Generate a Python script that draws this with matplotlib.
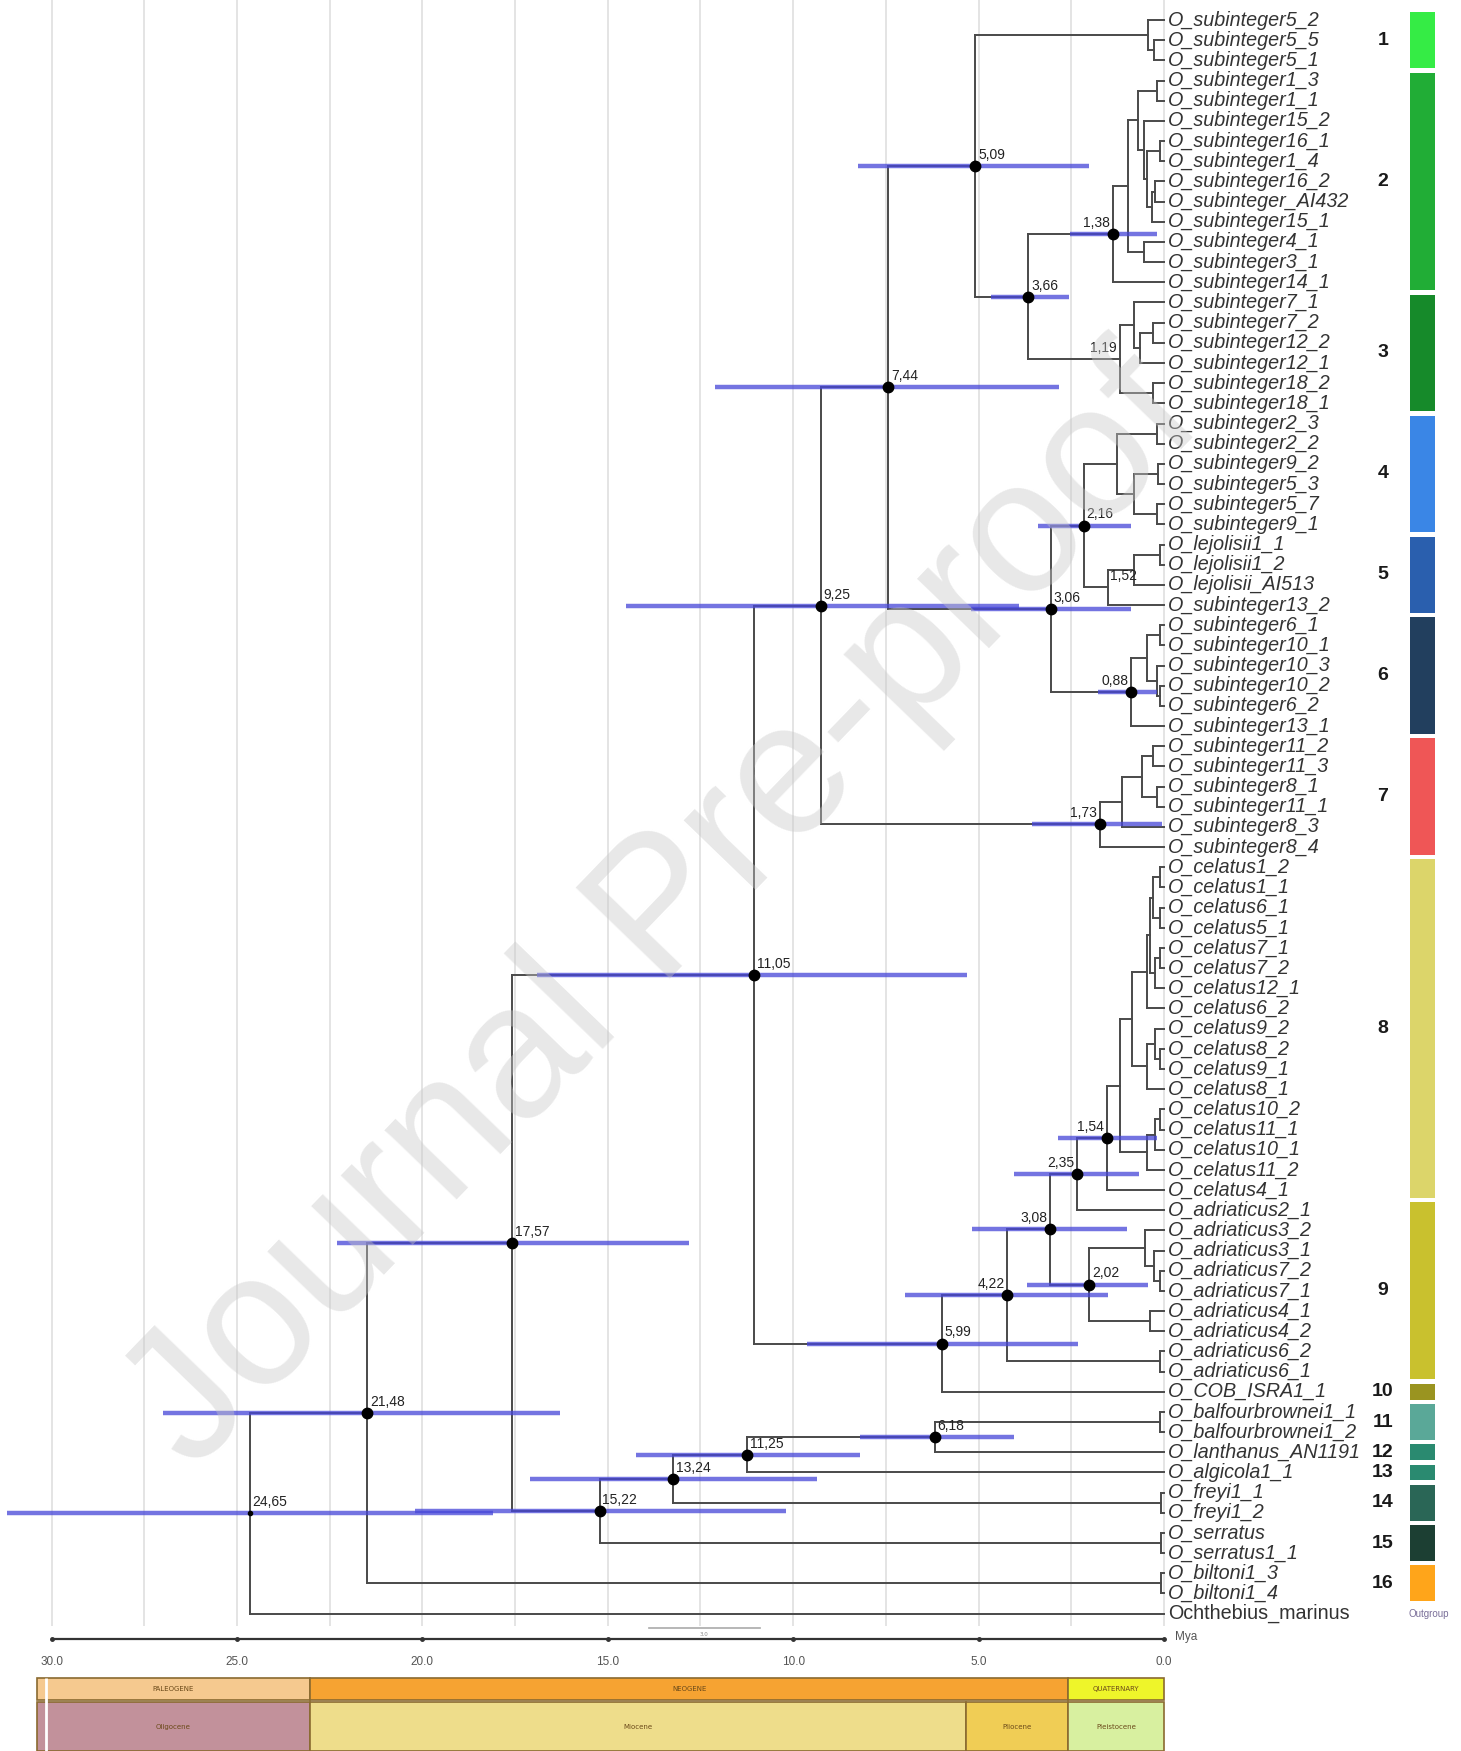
import re
import matplotlib.pyplot as plt

# tree pieces in newick; internal labels = node age (Mya), "*" = printed age with HPD bar
clade1 = "(O_subinteger5_2,(O_subinteger5_5,O_subinteger5_1)0.27)0.42"
clade2 = ("((((O_subinteger1_3,O_subinteger1_1)0.2,(O_subinteger15_2,((O_subinteger16_1,O_subinteger1_4)0.12,"
          "((O_subinteger16_2,O_subinteger_AI432)0.24,O_subinteger15_1)0.33)0.46)0.55)0.69,"
          "(O_subinteger4_1,O_subinteger3_1)0.55)0.96,O_subinteger14_1)*1.38")
clade3 = ("((O_subinteger7_1,((O_subinteger7_2,O_subinteger12_2)0.3,O_subinteger12_1)0.64)0.82,"
          "(O_subinteger18_2,O_subinteger18_1)0.3)*1.19")
clade4 = ("((O_subinteger2_3,O_subinteger2_2)0.2,((O_subinteger9_2,O_subinteger5_3)0.15,"
          "(O_subinteger5_7,O_subinteger9_1)0.2)0.82)1.27")
clade5 = "(((O_lejolisii1_1,O_lejolisii1_2)0.12,O_lejolisii_AI513)0.82,O_subinteger13_2)*1.52"
clade6 = ("(((O_subinteger6_1,O_subinteger10_1)0.1,(O_subinteger10_3,(O_subinteger10_2,O_subinteger6_2)0.12)0.2)0.46,"
          "O_subinteger13_1)*0.88")
clade7 = ("((((O_subinteger11_2,O_subinteger11_3)0.3,(O_subinteger8_1,O_subinteger11_1)0.2)0.6,O_subinteger8_3)1.14,"
          "O_subinteger8_4)*1.73")
clade8 = ("((((((O_celatus1_2,O_celatus1_1)0.12,(O_celatus6_1,O_celatus5_1)0.1)0.3,"
          "((O_celatus7_1,O_celatus7_2)0.12,O_celatus12_1)0.25)0.38,O_celatus6_2)0.46,"
          "((O_celatus9_2,(O_celatus8_2,O_celatus9_1)0.12)0.25,O_celatus8_1)0.46)0.85,"
          "(((O_celatus10_2,O_celatus11_1)0.12,O_celatus10_1)0.24,O_celatus11_2)0.46)1.18")
n202 = ("((O_adriaticus3_2,(O_adriaticus3_1,(O_adriaticus7_2,O_adriaticus7_1)0.1)0.28)0.5,"
        "(O_adriaticus4_1,O_adriaticus4_2)0.37)*2.02")
n235 = f"(({clade8},O_celatus4_1)*1.54,O_adriaticus2_1)*2.35"
n599 = f"((({n235},{n202})*3.08,(O_adriaticus6_2,O_adriaticus6_1)0.1)*4.22,O_COB_ISRA1_1)*5.99"
n509 = f"({clade1},({clade2},{clade3})*3.66)*5.09"
n306 = f"(({clade4},{clade5})*2.16,{clade6})*3.06"
n925 = f"(({n509},{n306})*7.44,{clade7})*9.25"
n618 = "((O_balfourbrownei1_1,O_balfourbrownei1_2)0.1,O_lanthanus_AN1191)*6.18"
n1522 = (f"((({n618},O_algicola1_1)*11.25,(O_freyi1_1,O_freyi1_2)0.08)*13.24,"
         "(O_serratus,O_serratus1_1)0.08)*15.22")
tree = (f"(((({n925},{n599})*11.05,{n1522})*17.57,(O_biltoni1_3,O_biltoni1_4)0.08)*21.48,"
        "Ochthebius_marinus)*24.65")

# 95% HPD of the dated nodes (old, young)
hpd = {"5.09": (8.25, 2.02), "1.38": (2.53, 0.2), "3.66": (4.67, 2.56), "7.44": (12.1, 2.83),
       "2.16": (3.4, 0.88), "3.06": (5.2, 0.9), "0.88": (1.78, 0.2), "1.73": (3.57, 0.06),
       "9.25": (14.5, 3.9), "11.05": (16.9, 5.3), "1.54": (2.86, 0.2), "2.35": (4.05, 0.68),
       "3.08": (5.18, 1.0), "2.02": (3.7, 0.42), "4.22": (6.98, 1.5), "5.99": (9.64, 2.32),
       "6.18": (8.19, 4.05), "11.25": (14.25, 8.19), "13.24": (17.1, 9.37), "15.22": (20.2, 10.2),
       "17.57": (22.3, 12.8), "21.48": (27.0, 16.3), "24.65": (31.2, 18.1)}
left_labels = ["1.38", "1.19", "0.88", "1.73", "1.54", "2.35", "3.08", "4.22"]
dot_size = {"1.19": 0, "1.52": 0, "24.65": 3}

clade_names = [str(i) for i in range(1, 17)]
clade_first = [0, 3, 14, 20, 26, 30, 36, 42, 59, 68, 69, 71, 72, 73, 75, 77]
clade_last = [2, 13, 19, 25, 29, 35, 41, 58, 67, 68, 70, 71, 72, 74, 76, 78]
clade_colors = ["#35ec45", "#21ad36", "#168a2a", "#3a86e6", "#2a5fae", "#223f5e", "#ef5656", "#dcd56a",
                "#c9c12e", "#9a9420", "#5aa898", "#2a8a70", "#2a8a70", "#2a6656", "#1c3f33", "#ffa51a"]

periods = ["PALEOGENE", "NEOGENE", "QUATERNARY"]
period_start = [30.4, 23.03, 2.58]
period_end = [23.03, 2.58, 0.0]
period_colors = ["#f5c98f", "#f6a332", "#eef52a"]
epochs = ["Oligocene", "Miocene", "Pliocene", "Pleistocene"]
epoch_start = [30.4, 23.03, 5.333, 2.58]
epoch_end = [23.03, 5.333, 2.58, 0.0]
epoch_colors = ["#c2919b", "#eedd8b", "#f0cd55", "#d8f0a0"]

axis_ticks = [30, 25, 20, 15, 10, 5, 0]
grid_ages = [30 - 2.5 * i for i in range(13)]
scale_bar = (13.9, 3.0)


def parse(s):
    s = s.replace(" ", "")
    pos = 0

    def node():
        nonlocal pos
        if s[pos] == "(":
            pos += 1
            kids = [node()]
            while s[pos] == ",":
                pos += 1
                kids.append(node())
            pos += 1
            lab = re.match(r"[^,()]*", s[pos:]).group(0)
            pos += len(lab)
            return {"kids": kids, "label": lab}
        name = re.match(r"[^,()]*", s[pos:]).group(0)
        pos += len(name)
        return {"name": name}
    return node()


root = parse(tree)
tips = []


def layout(n):
    if "name" in n:
        n["y"] = len(tips)
        n["age"] = 0.0
        tips.append(n)
    else:
        for k in n["kids"]:
            layout(k)
        n["y"] = (n["kids"][0]["y"] + n["kids"][-1]["y"]) / 2
        n["age"] = float(n["label"].lstrip("*"))


layout(root)

fig = plt.figure(figsize=(14.61, 17.51), dpi=100)
ax = fig.add_axes([0, 0, 1, 1])
ax.set_xlim(31.39, -8.01)
ax.set_ylim(85.81, -0.9965)
ax.axis("off")

ax.vlines(grid_ages, -1, 79.6, color="#dcdcdc", lw=1.1, zorder=0)

line_c = "#4a4a4a"


def draw(n):
    if "name" in n:
        it = n["name"] != "Ochthebius_marinus"
        ax.annotate(n["name"], (0, n["y"]), xytext=(3, 0), textcoords="offset points",
                    ha="left", va="center", fontsize=14.2, color="#333333",
                    family="Liberation Sans", style="italic" if it else "normal")
        return
    ax.plot([n["age"], n["age"]], [n["kids"][0]["y"], n["kids"][-1]["y"]], color=line_c, lw=1.4, zorder=2)
    for k in n["kids"]:
        ax.plot([n["age"], k["age"]], [k["y"], k["y"]], color=line_c, lw=1.4, zorder=2)
        draw(k)
    lab = n["label"]
    if lab.startswith("*"):
        key = lab[1:]
        if key in hpd:
            ax.plot(hpd[key], [n["y"], n["y"]], color="#4646d8", alpha=0.75, lw=3.2,
                    solid_capstyle="butt", zorder=3)
        ms = dot_size.get(key, 7.5)
        if ms:
            ax.plot(n["age"], n["y"], "o", color="black", ms=ms, zorder=4)
        left = key in left_labels
        ax.annotate(key.replace(".", ","), (n["age"], n["y"]), xytext=(-2 if left else 2, 3),
                    textcoords="offset points", ha="right" if left else "left", va="bottom",
                    fontsize=10, color="#222222", family="Liberation Sans", zorder=5)


draw(root)

# clade colour strips and numbers
for name, a, b, c in zip(clade_names, clade_first, clade_last, clade_colors):
    mid = (a + b) / 2
    ax.barh(mid, 0.69, left=-7.32, height=b - a + 1 - 0.22, color=c, zorder=2)
    ax.text(-5.9, mid, name, ha="center", va="center", fontsize=14, fontweight="bold",
            color="#1a1a1a", family="Liberation Sans")
ax.text(-7.15, 79, "Outgroup", ha="center", va="center", fontsize=7, color="#7a6f99",
        family="Liberation Sans")

# time axis
ax.plot([axis_ticks[0], axis_ticks[-1]], [80.27, 80.27], color="#333333", lw=1.6)
ax.plot(axis_ticks, [80.27] * len(axis_ticks), "o", color="#333333", ms=2.5)
for t in axis_ticks:
    ax.text(t, 81.38, f"{t:.1f}", ha="center", va="center", fontsize=8.5, color="#555555",
            family="Liberation Sans")
ax.text(-0.3, 80.16, "Mya", ha="left", va="center", fontsize=8.5, color="#555555",
        family="Liberation Sans")
ax.plot([scale_bar[0], scale_bar[0] - scale_bar[1]], [79.72, 79.72], color="#aaaaaa", lw=1.2)
ax.text(scale_bar[0] - scale_bar[1] / 2, 80.05, f"{scale_bar[1]:.1f}", ha="center", va="center",
        fontsize=4, color="#888888")

# geological time scale
for name, s, e, c in zip(periods, period_start, period_end, period_colors):
    ax.barh(82.74, s - e, left=e, height=1.06, color=c, edgecolor="#8a6a30", lw=1.2)
    ax.text((s + e) / 2, 82.74, name, ha="center", va="center", fontsize=5, color="#6b4a1a")
for name, s, e, c in zip(epochs, epoch_start, epoch_end, epoch_colors):
    ax.barh(84.6, s - e, left=e, height=2.43, color=c, edgecolor="#8a6a30", lw=1.2)
    ax.text((s + e) / 2, 84.6, name, ha="center", va="center", fontsize=5, color="#6b4a1a")
ax.vlines(30.15, 82.2, 85.8, color="white", lw=2)

fig.text(0.455, 0.478, "Journal Pre-proof", rotation=46, fontsize=136, color="#c8c8c8", alpha=0.42,
         ha="center", va="center", family="Liberation Sans", zorder=10)

fig.savefig("out.png", dpi=100)
